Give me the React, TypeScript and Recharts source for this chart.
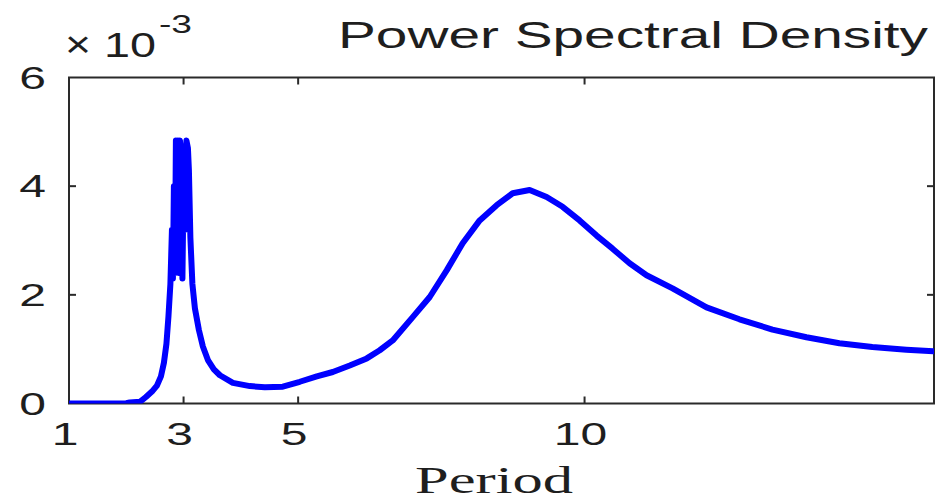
import React from 'react';
import { LineChart, Line, XAxis, YAxis, ReferenceArea } from 'recharts';

// Period values (x) and PSD values in units of 1e-3 (y)
const periods = [
  1.0, 1.5, 2.0, 2.06, 2.238, 2.343, 2.448, 2.535, 2.605, 2.657, 2.701, 2.736, 2.77,
  2.797, 2.814, 2.831, 2.849, 2.866, 2.884, 2.901, 2.919, 2.936, 2.954, 2.98, 3.006,
  3.023, 3.05, 3.076, 3.093, 3.119,
  3.154, 3.198, 3.268, 3.337, 3.425, 3.529, 3.634, 3.861, 4.157, 4.419, 4.733, 5.029,
  5.326, 5.605, 5.901, 6.198, 6.425, 6.651, 7.0, 7.297, 7.593, 7.872, 8.169, 8.466,
  8.745, 9.041, 9.338, 9.617, 9.913, 10.21, 10.489, 10.786, 11.082, 11.536, 12.129,
  12.704, 13.28, 13.873, 14.448, 15.024, 15.617, 16.088,
];
const psdE3 = [
  0.0, 0.0, 0.005, 0.02, 0.03, 0.12, 0.22, 0.33, 0.5, 0.75, 1.1, 1.6, 2.2,
  3.2, 2.3, 4.0, 2.4, 4.84, 2.6, 4.84, 2.4, 4.84, 4.7, 2.3, 4.6,
  3.2, 4.84, 4.7, 4.3, 3.05,
  2.2, 1.75, 1.35, 1.05, 0.8, 0.63, 0.52, 0.38, 0.32, 0.3, 0.31, 0.4,
  0.5, 0.58, 0.7, 0.83, 0.98, 1.16, 1.59, 1.96, 2.45, 2.95, 3.37, 3.65,
  3.87, 3.93, 3.8, 3.62, 3.37, 3.09, 2.85, 2.58, 2.36, 2.12, 1.77,
  1.55, 1.36, 1.22, 1.11, 1.04, 0.99, 0.96,
];
const xTicks = [1, 3, 5, 10];
const yTicks = [0, 2, 4, 6];
const xDomain = [1, 16.1];
const yDomain = [0, 6];
const titleText = 'Power Spectral Density';
const xLabelText = 'Period';
const scaleBase = '10';
const scaleExp = '-3';

const data = periods.map((p, i) => ({ period: p, psd: psdE3[i] }));

const W = 936;
const H = 502;
const PLOT_LEFT = 69;
const PLOT_RIGHT = 934;
const PLOT_TOP = 77.5;
const PLOT_BOTTOM = 403.5;
const AXIS_COLOR = '#2a2a2a';
const TEXT_COLOR = '#1e1e1e';
const SANS = '"Liberation Sans", Arial, sans-serif';
const SERIF = '"Liberation Serif", "Times New Roman", serif';
const STRETCH = 1.55;

const XTick = (props: any) => {
  const { x, payload } = props;
  const v = payload.value;
  return (
    <g>
      {v !== xTicks[0] && (
        <>
          <line x1={x} x2={x} y1={PLOT_BOTTOM} y2={PLOT_BOTTOM - 7} stroke={AXIS_COLOR} strokeWidth={2} />
          <line x1={x} x2={x} y1={PLOT_TOP} y2={PLOT_TOP + 7} stroke={AXIS_COLOR} strokeWidth={2} />
        </>
      )}
      <text
        x={0}
        y={0}
        transform={`translate(${x - 4},445) scale(${STRETCH},1)`}
        textAnchor="middle"
        fontFamily={SANS}
        fontSize={31}
        fill={TEXT_COLOR}
      >
        {v}
      </text>
    </g>
  );
};

const YTick = (props: any) => {
  const { y, payload } = props;
  const v = payload.value;
  const inner = v !== yTicks[0] && v !== yTicks[yTicks.length - 1];
  return (
    <g>
      {inner && (
        <>
          <line x1={PLOT_LEFT} x2={PLOT_LEFT + 7} y1={y} y2={y} stroke={AXIS_COLOR} strokeWidth={2} />
          <line x1={PLOT_RIGHT} x2={PLOT_RIGHT - 7} y1={y} y2={y} stroke={AXIS_COLOR} strokeWidth={2} />
        </>
      )}
      <text
        x={0}
        y={0}
        transform={`translate(46,${y + 11}) scale(${STRETCH},1)`}
        textAnchor="end"
        fontFamily={SANS}
        fontSize={31}
        fill={TEXT_COLOR}
      >
        {v}
      </text>
    </g>
  );
};

export default function App() {
  return (
    <div style={{ position: 'absolute', left: 0, top: 0, width: W, height: H, background: '#fff' }}>
      <LineChart
        width={W}
        height={H}
        data={data}
        margin={{ top: PLOT_TOP, right: W - PLOT_RIGHT, bottom: 0, left: 0 }}
      >
        <XAxis
          dataKey="period"
          type="number"
          domain={xDomain}
          ticks={xTicks}
          allowDataOverflow
          height={H - PLOT_BOTTOM}
          axisLine={false}
          tickLine={false}
          tickSize={0}
          tick={<XTick />}
          interval={0}
        />
        <YAxis
          type="number"
          domain={yDomain}
          ticks={yTicks}
          allowDataOverflow
          width={PLOT_LEFT}
          axisLine={false}
          tickLine={false}
          tickSize={0}
          tick={<YTick />}
          interval={0}
        />
        <ReferenceArea
          x1={xDomain[0]}
          x2={xDomain[1]}
          y1={yDomain[0]}
          y2={yDomain[1]}
          fill="none"
          fillOpacity={0}
          stroke={AXIS_COLOR}
          strokeWidth={2}
        />
        <Line
          dataKey="psd"
          type="linear"
          stroke="#0000ff"
          strokeWidth={6}
          strokeLinejoin="round"
          strokeLinecap="round"
          dot={false}
          activeDot={false}
          isAnimationActive={false}
        />
      </LineChart>
      <svg
        width={W}
        height={H}
        style={{ position: 'absolute', left: 0, top: 0, pointerEvents: 'none' }}
      >
        <text
          x={338}
          y={48}
          textLength={590}
          lengthAdjust="spacingAndGlyphs"
          fontFamily={SANS}
          fontSize={36}
          fill={TEXT_COLOR}
        >
          {titleText}
        </text>
        <text x={65} y={57} textLength={26} lengthAdjust="spacingAndGlyphs" fontFamily={SANS} fontSize={36} fill={TEXT_COLOR}>
          ×
        </text>
        <text x={104} y={57} textLength={52} lengthAdjust="spacingAndGlyphs" fontFamily={SANS} fontSize={35} fill={TEXT_COLOR}>
          {scaleBase}
        </text>
        <text x={159} y={33} textLength={33} lengthAdjust="spacingAndGlyphs" fontFamily={SANS} fontSize={25} fill={TEXT_COLOR}>
          {scaleExp}
        </text>
        <text
          x={415}
          y={493}
          textLength={158}
          lengthAdjust="spacingAndGlyphs"
          fontFamily={SERIF}
          fontSize={37}
          fill={TEXT_COLOR}
        >
          {xLabelText}
        </text>
      </svg>
    </div>
  );
}
